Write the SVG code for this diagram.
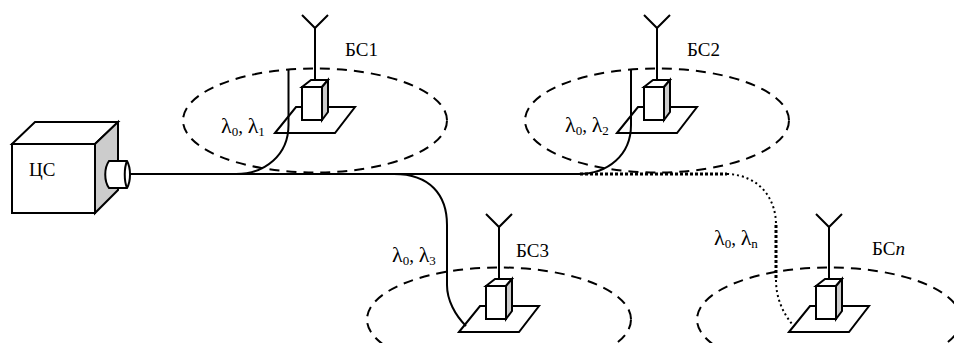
<svg xmlns="http://www.w3.org/2000/svg" width="954" height="343" viewBox="0 0 954 343">
<style>
.l{fill:none;stroke:#000;stroke-width:2;stroke-linejoin:miter}
.w{fill:#fff;stroke:#000;stroke-width:2}
.g{fill:#ccc;stroke:#000;stroke-width:2}
.d{fill:none;stroke:#000;stroke-width:2;stroke-dasharray:10 7}
.f{fill:none;stroke:#000;stroke-width:2}
.o{fill:none;stroke:#000;stroke-width:2;stroke-dasharray:2 3}
.b{fill:none;stroke:#000;stroke-width:3;stroke-dasharray:3 2}
text{font-family:"Liberation Serif","Times New Roman",serif;font-size:19px;fill:#000}
.s{font-size:13px}
.m{font-size:22px}
</style>
<defs>
<g id="bs">
<ellipse class="d" cx="0" cy="120.500" rx="132" ry="52"/>
<path class="l" d="M-13,15L0,28L13,15M0,28V80"/>
<path class="w" d="M-40,133L-19,107H40L20,133Z"/>
<path class="w" d="M-13,87L-4,80H13L7,87Z"/>
<path class="g" d="M7,87L13,80V112L7,120Z"/>
<rect class="w" x="-13" y="87" width="20" height="33"/>
</g>
</defs>
<g id="CS">
<path class="w" d="M12,144L35,122H118L95,144Z"/>
<path class="g" d="M95,144L118,122V190L95,213Z"/>
<rect class="w" x="12" y="144" width="83" height="69"/>
<text x="29" y="176">ЦС</text>
<path class="w" d="M109,161H127C131,168 131,181 127,188H109C104,181 104,168 109,161Z"/>
<path class="f" d="M127,161C124,168 124,181 127,188"/>
</g>
<g id="BS1"><use href="#bs" x="315" y="0"/><text x="345" y="56">БС1</text></g>
<g id="BS2"><use href="#bs" x="657" y="0"/><text x="687" y="56">БС2</text></g>
<g id="BS3"><use href="#bs" x="499" y="199"/><text x="516" y="257">БС3</text></g>
<g id="BSn"><use href="#bs" x="829" y="199"/><text x="872" y="255">БС<tspan font-style="italic">n</tspan></text></g>
<g id="connectors">
<path class="f" d="M130,174H580"/>
<path class="f" d="M288.500,69V125C288.500,155 265,174 236,174"/>
<path class="f" d="M631,69V125C631,155 608,174 578,174"/>
<path class="f" d="M394,174C430,174 447,195 447,225V285C447,300 455,315 466,326"/>
<path class="b" d="M580,174H727"/>
<path class="o" d="M727,174C758,175 776,197 776,225"/>
<path class="b" d="M776,225V280"/>
<path class="o" d="M776,280C776,298 783,313 792,324"/>
</g>
<g id="labels">
<text x="221" y="133"><tspan class="m">λ</tspan><tspan class="s" dy="3">0</tspan><tspan dy="-3">, </tspan><tspan class="m">λ</tspan><tspan class="s" dy="3">1</tspan></text>
<text x="565" y="132"><tspan class="m">λ</tspan><tspan class="s" dy="3">0</tspan><tspan dy="-3">, </tspan><tspan class="m">λ</tspan><tspan class="s" dy="3">2</tspan></text>
<text x="392" y="262"><tspan class="m">λ</tspan><tspan class="s" dy="3">0</tspan><tspan dy="-3">, </tspan><tspan class="m">λ</tspan><tspan class="s" dy="3">3</tspan></text>
<text x="714" y="245"><tspan class="m">λ</tspan><tspan class="s" dy="3">0</tspan><tspan dy="-3">, </tspan><tspan class="m">λ</tspan><tspan class="s" dy="3">n</tspan></text>
</g>
</svg>
